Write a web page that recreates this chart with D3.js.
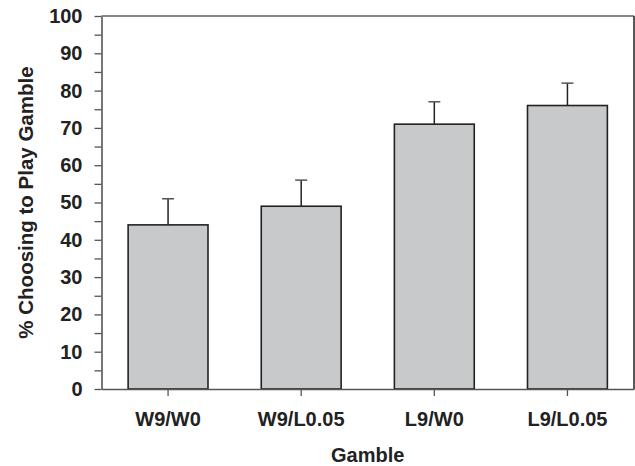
<!DOCTYPE html>
<html><head><meta charset="utf-8">
<script src="https://cdn.jsdelivr.net/npm/d3@7"></script>
<style>body{margin:0;background:#fff}svg{display:block}text{font-family:"Liberation Sans",Arial,sans-serif;font-weight:bold;fill:#222}</style>
</head><body><svg id="c" width="635" height="466"></svg>
<script>
const categories = ["W9/W0", "W9/L0.05", "L9/W0", "L9/L0.05"];
const values = [44, 49, 71, 76];
const errorTops = [51, 56, 77, 82];
const yTicks = [0,10,20,30,40,50,60,70,80,90,100];
const minorTicks = [5,15,25,35,45,55,65,75,85,95];

const svg = d3.select("#c");
const L = 101.5, R = 634, T = 16, B = 389;
const x = d3.scaleBand().domain(categories).range([L, R]).paddingInner(0.4).paddingOuter(0.2);
const y = d3.scaleLinear().domain([0, 100]).range([B, T]);

// bars
svg.selectAll("rect.bar").data(values).join("rect")
  .attr("x", (d,i) => x(categories[i]))
  .attr("y", d => y(d))
  .attr("width", x.bandwidth())
  .attr("height", d => B - y(d))
  .attr("fill", "#c8c9cb").attr("stroke", "#222").attr("stroke-width", 1.6);

// error bars
const cx = i => x(categories[i]) + x.bandwidth()/2;
svg.selectAll("line.err").data(errorTops).join("line")
  .attr("x1", (d,i) => cx(i)).attr("x2", (d,i) => cx(i))
  .attr("y1", (d,i) => y(values[i])).attr("y2", d => y(d))
  .attr("stroke", "#222").attr("stroke-width", 1.5);
svg.selectAll("line.cap").data(errorTops).join("line")
  .attr("x1", (d,i) => cx(i) - 6).attr("x2", (d,i) => cx(i) + 6)
  .attr("y1", d => y(d)).attr("y2", d => y(d))
  .attr("stroke", "#555").attr("stroke-width", 1.5);

// frame top & right
svg.append("line").attr("x1", L).attr("x2", R).attr("y1", T).attr("y2", T).attr("stroke", "#888").attr("stroke-width", 2);
svg.append("line").attr("x1", R).attr("x2", R).attr("y1", T).attr("y2", B).attr("stroke", "#222").attr("stroke-width", 1.5);

// y axis
const yAxis = svg.append("g").attr("transform", `translate(${L},0)`)
  .call(d3.axisLeft(y).tickValues(yTicks).tickSize(7).tickPadding(12).tickSizeOuter(0));
svg.append("g").attr("transform", `translate(${L},0)`)
  .call(d3.axisLeft(y).tickValues(minorTicks).tickSize(7).tickFormat("").tickSizeOuter(0))
  .call(g => g.select(".domain").remove());
// x axis
const xAxis = svg.append("g").attr("transform", `translate(0,${B})`)
  .call(d3.axisBottom(x).tickSize(7).tickPadding(16).tickSizeOuter(0));
svg.selectAll(".domain").attr("stroke", "#555").attr("stroke-width", 1.6);
svg.selectAll(".tick line").attr("stroke", "#555").attr("stroke-width", 1.3);
svg.selectAll(".tick text").attr("font-size", 20).attr("fill", "#222")
  .attr("font-family", '"Liberation Sans",Arial,sans-serif').attr("font-weight", "bold");

// axis titles
svg.append("text").attr("x", (L+R)/2).attr("y", 462).attr("text-anchor", "middle")
  .attr("font-size", 20).text("Gamble");
svg.append("text").attr("transform", `translate(33,${(T+B)/2}) rotate(-90)`).attr("text-anchor", "middle")
  .attr("font-size", 20.5).text("% Choosing to Play Gamble");
</script></body></html>
